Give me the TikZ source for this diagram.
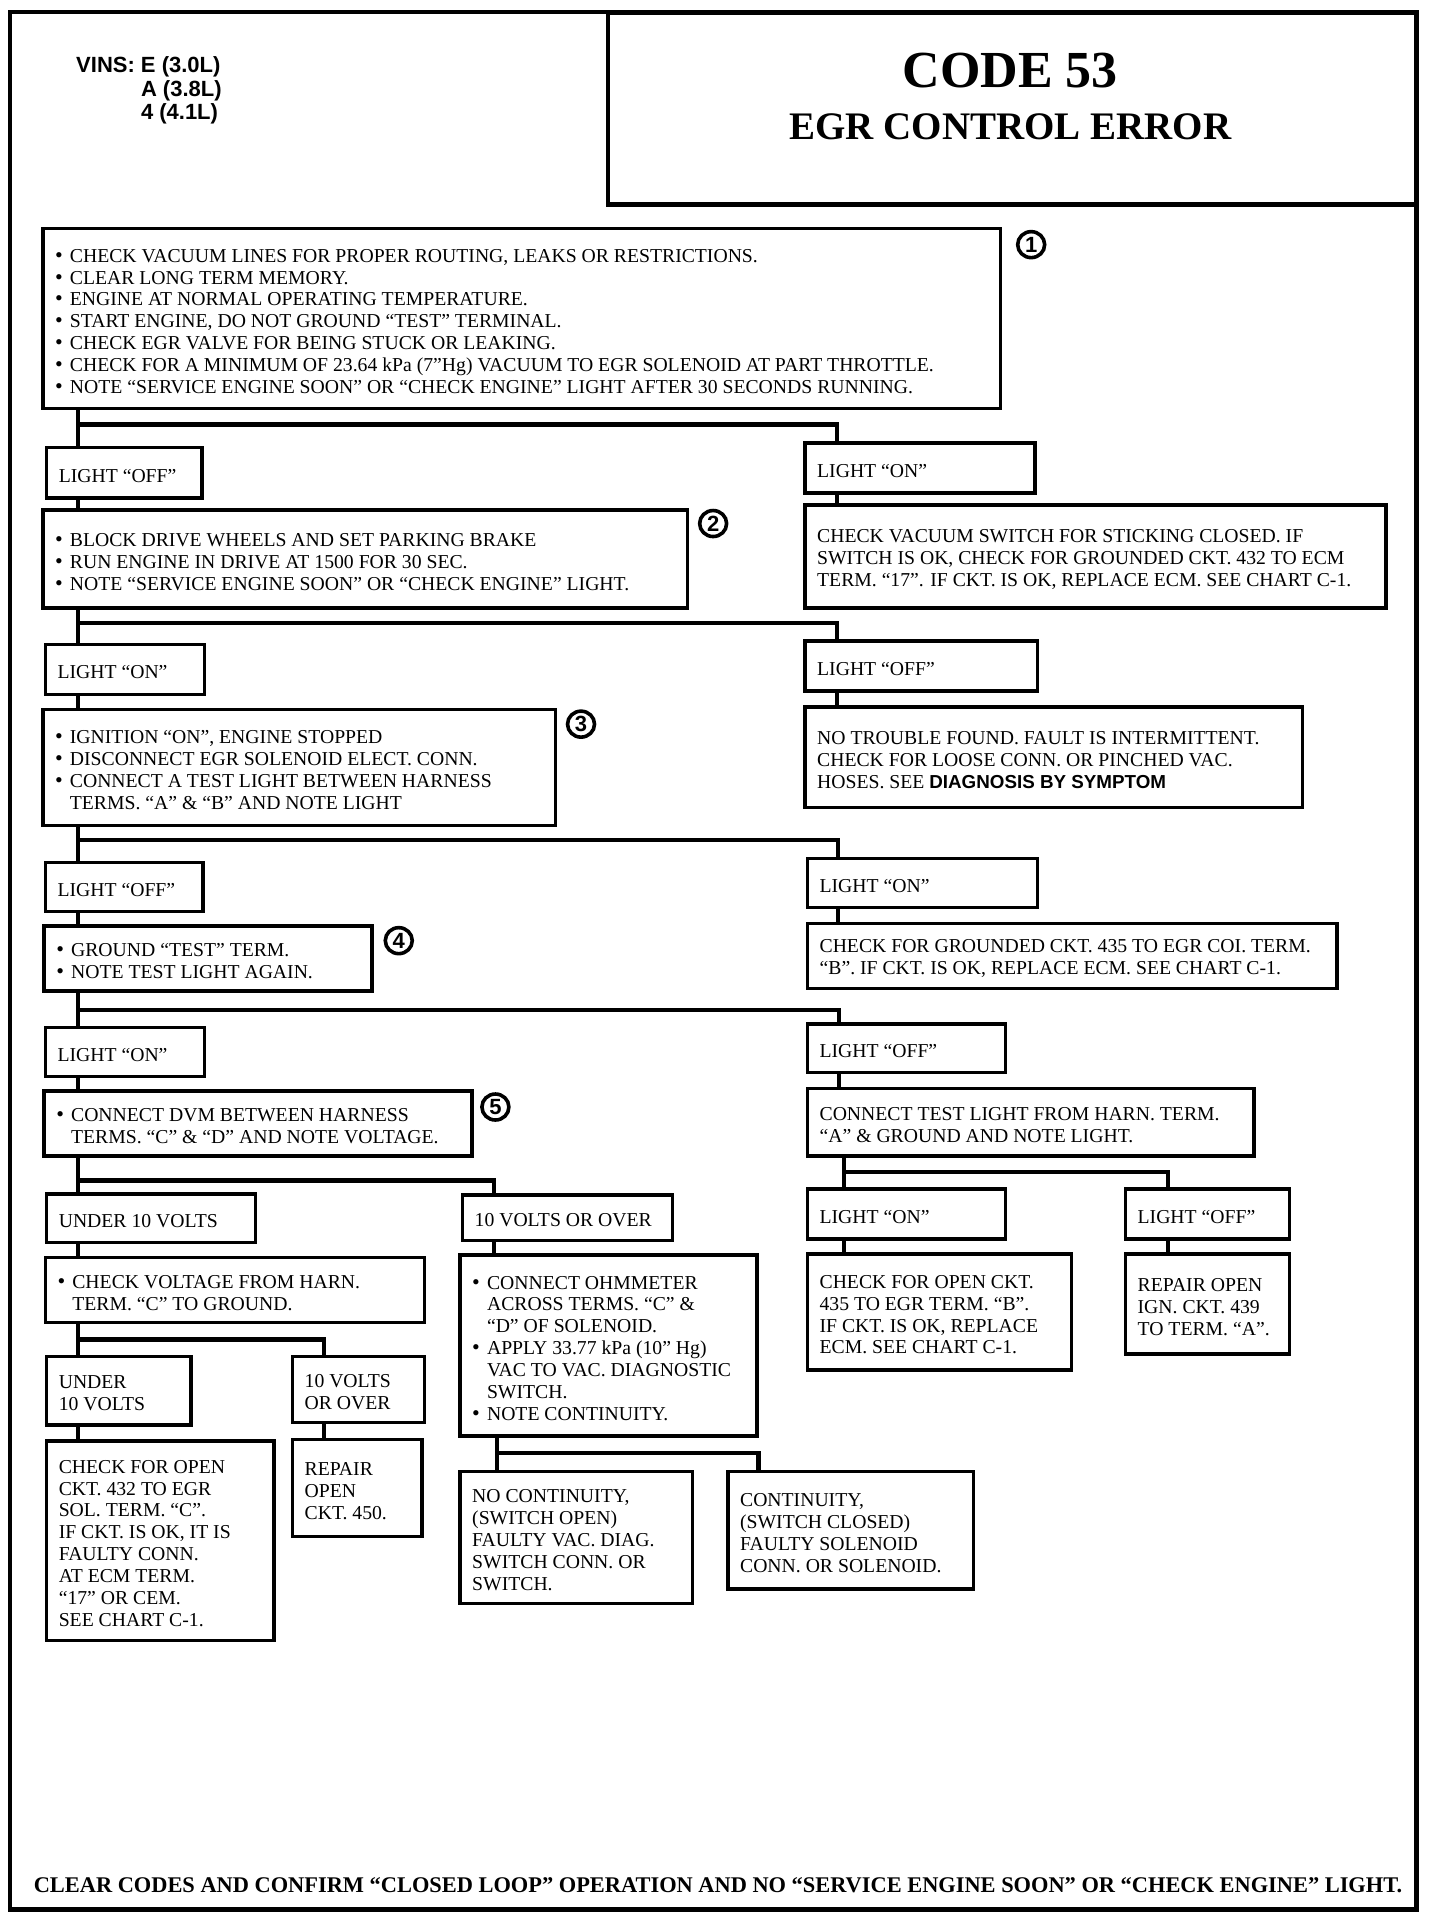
\documentclass[tikz,border=0pt]{standalone}
\usepackage{fontspec}
\setmainfont{Liberation Serif}
\newfontfamily\hsans{Liberation Sans}
\usetikzlibrary{fit,shapes.geometric}
\newcommand\bodyfont{\fontsize{9.85}{10.95}\selectfont}
\newcommand\bu{\makebox[7.4pt][l]{\fontsize{11}{11}\selectfont\textbullet}}
\newcommand\ind{\hspace*{7.4pt}}
\newcommand\sansb{\hsans\bfseries\fontsize{9.4}{10.95}\selectfont}
\newcommand\boxn[6]{\node[bx, fit={(#2,#3) (#4,#5)}] (#1) {};\node[txt] (#1t) at ([xshift=6.8pt,yshift=-1.4pt]#1.west) {#6};}
\begin{document}
\begin{tikzpicture}[x=0.6117pt,y=-0.6117pt,
 bx/.style={draw, line width=1.7pt, inner sep=0pt},
 txt/.style={anchor=west, align=left, inner sep=0pt, font=\bodyfont},
 conn/.style={line width=2.1pt},
 num/.style={draw, ellipse, line width=1.8pt, inner sep=0pt, minimum width=13.5pt, minimum height=13pt, font=\hsans\bfseries\fontsize{11}{11}\selectfont}]
\useasboundingbox (0,0) rectangle (1177,1568);
% frame and title
\node[draw, line width=2.2pt, inner sep=0pt, fit={(8,10) (1158,1561)}] (frame) {};
\node[draw, line width=2.4pt, inner sep=0pt, fit={(497,10) (1158,167)}] (tbox) {};
\node[font=\bfseries\fontsize{26}{28}\selectfont] (code) at (826,58) {CODE 53};
\node[font=\bfseries\fontsize{19.5}{22}\selectfont] (egr) at (826,104) {EGR CONTROL ERROR};
\node[anchor=north west, inner sep=0pt, font=\hsans\bfseries\fontsize{11}{11.6}\selectfont] (vins) at (62,46)
 {\begin{tabular}{@{}r@{ }l@{}}VINS: & E (3.0L)\\ & A (3.8L)\\ & 4 (4.1L)\end{tabular}};
% boxes
\boxn{b1}{35}{187}{818}{334}{\bu CHECK VACUUM LINES FOR PROPER ROUTING, LEAKS OR RESTRICTIONS.\\
\bu CLEAR LONG TERM MEMORY.\\
\bu ENGINE AT NORMAL OPERATING TEMPERATURE.\\
\bu START ENGINE, DO NOT GROUND “TEST” TERMINAL.\\
\bu CHECK EGR VALVE FOR BEING STUCK OR LEAKING.\\
\bu CHECK FOR A MINIMUM OF 23.64 kPa (7”Hg) VACUUM TO EGR SOLENOID AT PART THROTTLE.\\
\bu NOTE “SERVICE ENGINE SOON” OR “CHECK ENGINE” LIGHT AFTER 30 SECONDS RUNNING.}
\boxn{lo1}{38}{366}{165}{407}{LIGHT “OFF”}
\boxn{ro1}{658}{362}{846}{403}{LIGHT “ON”}
\boxn{b2}{35}{417}{562}{497}{\bu BLOCK DRIVE WHEELS AND SET PARKING BRAKE\\
\bu RUN ENGINE IN DRIVE AT 1500 FOR 30 SEC.\\
\bu NOTE “SERVICE ENGINE SOON” OR “CHECK ENGINE” LIGHT.}
\boxn{rb1}{658}{413}{1133}{497}{CHECK VACUUM SWITCH FOR STICKING CLOSED. IF\\
SWITCH IS OK, CHECK FOR GROUNDED CKT. 432 TO ECM\\
TERM. “17”. IF CKT. IS OK, REPLACE ECM. SEE CHART C-1.}
\boxn{lo2}{37}{527}{167}{568}{LIGHT “ON”}
\boxn{ro2}{658}{524}{848}{565}{LIGHT “OFF”}
\boxn{b3}{35}{580}{454}{675}{\bu IGNITION “ON”, ENGINE STOPPED\\
\bu DISCONNECT EGR SOLENOID ELECT. CONN.\\
\bu CONNECT A TEST LIGHT BETWEEN HARNESS\\
\ind TERMS. “A” \& “B” AND NOTE LIGHT}
\boxn{rb2}{658}{578}{1065}{660}{NO TROUBLE FOUND. FAULT IS INTERMITTENT.\\
CHECK FOR LOOSE CONN. OR PINCHED VAC.\\
HOSES. SEE {\sansb DIAGNOSIS BY SYMPTOM}}
\boxn{lo3}{37}{705}{166}{745}{LIGHT “OFF”}
\boxn{ro3}{660}{702}{848}{742}{LIGHT “ON”}
\boxn{b4}{36}{757}{304}{810}{\bu GROUND “TEST” TERM.\\
\bu NOTE TEST LIGHT AGAIN.}
\boxn{rb3}{660}{755}{1093}{808}{CHECK FOR GROUNDED CKT. 435 TO EGR COI. TERM.\\
“B”. IF CKT. IS OK, REPLACE ECM. SEE CHART C-1.}
\boxn{lo4}{37}{840}{167}{880}{LIGHT “ON”}
\boxn{ro4}{660}{837}{822}{877}{LIGHT “OFF”}
\boxn{b5}{36}{892}{386}{945}{\bu CONNECT DVM BETWEEN HARNESS\\
\ind TERMS. “C” \& “D” AND NOTE VOLTAGE.}
\boxn{rb4}{660}{890}{1025}{945}{CONNECT TEST LIGHT FROM HARN. TERM.\\
“A” \& GROUND AND NOTE LIGHT.}
\boxn{u1}{38}{976}{209}{1016}{UNDER 10 VOLTS}
\boxn{o1}{378}{977}{550}{1014}{10 VOLTS OR OVER}
\boxn{ro5}{660}{972}{822}{1013}{LIGHT “ON”}
\boxn{rf5}{920}{972}{1054}{1013}{LIGHT “OFF”}
\boxn{cv}{37}{1028}{347}{1081}{\bu CHECK VOLTAGE FROM HARN.\\
\ind TERM. “C” TO GROUND.}
\boxn{ohm}{376}{1026}{619}{1174}{\bu CONNECT OHMMETER\\
\ind ACROSS TERMS. “C” \&\\
\ind “D” OF SOLENOID.\\
\bu APPLY 33.77 kPa (10” Hg)\\
\ind VAC TO VAC. DIAGNOSTIC\\
\ind SWITCH.\\
\bu NOTE CONTINUITY.}
\boxn{c435}{660}{1025}{876}{1120}{CHECK FOR OPEN CKT.\\
435 TO EGR TERM. “B”.\\
IF CKT. IS OK, REPLACE\\
ECM. SEE CHART C-1.}
\boxn{r439}{920}{1025}{1054}{1107}{REPAIR OPEN\\
IGN. CKT. 439\\
TO TERM. “A”.}
\boxn{u2}{38}{1109}{156}{1165}{UNDER\\ 10 VOLTS}
\boxn{o2}{239}{1109}{347}{1163}{10 VOLTS\\ OR OVER}
\boxn{c432}{38}{1178}{224}{1341}{CHECK FOR OPEN\\
CKT. 432 TO EGR\\
SOL. TERM. “C”.\\
IF CKT. IS OK, IT IS\\
FAULTY CONN.\\
AT ECM TERM.\\
“17” OR CEM.\\
SEE CHART C-1.}
\boxn{r450}{239}{1177}{345}{1256}{REPAIR\\ OPEN\\ CKT. 450.}
\boxn{nc}{376}{1203}{566}{1311}{NO CONTINUITY,\\
(SWITCH OPEN)\\
FAULTY VAC. DIAG.\\
SWITCH CONN. OR\\
SWITCH.}
\boxn{cc}{595}{1203}{796}{1299}{CONTINUITY,\\
(SWITCH CLOSED)\\
FAULTY SOLENOID\\
CONN. OR SOLENOID.}
% step numbers
\node[num] (n1) at (843,200) {1};
\node[num] (n2) at (583,428) {2};
\node[num] (n3) at (475,592) {3};
\node[num] (n4) at (326,769) {4};
\node[num] (n5) at (405,905) {5};
% junctions
\coordinate (j1) at (64,347);  \coordinate (k1) at (684,347);
\coordinate (j2) at (64,509);  \coordinate (k2) at (684,509);
\coordinate (j3) at (64,687);  \coordinate (k3) at (685,687);
\coordinate (j4) at (64,826);  \coordinate (k4) at (686,826);
\coordinate (j5) at (64,965);  \coordinate (k5) at (404,965);
\coordinate (j5r) at (690,958); \coordinate (k5r) at (955,958);
\coordinate (j6) at (64,1095); \coordinate (k6) at (265,1095);
\coordinate (j7) at (406,1188); \coordinate (k7) at (620,1188);
% connectors
\draw[conn] (b1.south -| j1) -- (lo1.north -| j1);
\draw[conn] (j1) -- (k1) -- (ro1.north -| k1);
\draw[conn] (lo1.south -| j1) -- (b2.north -| j1);
\draw[conn] (ro1.south -| k1) -- (rb1.north -| k1);
\draw[conn] (b2.south -| j2) -- (lo2.north -| j2);
\draw[conn] (j2) -- (k2) -- (ro2.north -| k2);
\draw[conn] (lo2.south -| j2) -- (b3.north -| j2);
\draw[conn] (ro2.south -| k2) -- (rb2.north -| k2);
\draw[conn] (b3.south -| j3) -- (lo3.north -| j3);
\draw[conn] (j3) -- (k3) -- (ro3.north -| k3);
\draw[conn] (lo3.south -| j3) -- (b4.north -| j3);
\draw[conn] (ro3.south -| k3) -- (rb3.north -| k3);
\draw[conn] (b4.south -| j4) -- (lo4.north -| j4);
\draw[conn] (j4) -- (k4) -- (ro4.north -| k4);
\draw[conn] (lo4.south -| j4) -- (b5.north -| j4);
\draw[conn] (ro4.south -| k4) -- (rb4.north -| k4);
\draw[conn] (b5.south -| j5) -- (u1.north -| j5);
\draw[conn] (j5) -- (k5) -- (o1.north -| k5);
\draw[conn] (u1.south -| j5) -- (cv.north -| j5);
\draw[conn] (o1.south -| k5) -- (ohm.north -| k5);
\draw[conn] (rb4.south -| j5r) -- (ro5.north -| j5r);
\draw[conn] (j5r) -- (k5r) -- (rf5.north -| k5r);
\draw[conn] (ro5.south -| j5r) -- (c435.north -| j5r);
\draw[conn] (rf5.south -| k5r) -- (r439.north -| k5r);
\draw[conn] (cv.south -| j6) -- (u2.north -| j6);
\draw[conn] (j6) -- (k6) -- (o2.north -| k6);
\draw[conn] (u2.south -| j6) -- (c432.north -| j6);
\draw[conn] (o2.south -| k6) -- (r450.north -| k6);
\draw[conn] (ohm.south -| j7) -- (nc.north -| j7);
\draw[conn] (j7) -- (k7) -- (cc.north -| k7);
% footer
\node[font=\bfseries\fontsize{11.2}{12}\selectfont, inner sep=0pt] (foot) at (587,1541)
 {CLEAR CODES AND CONFIRM “CLOSED LOOP” OPERATION AND NO “SERVICE ENGINE SOON” OR “CHECK ENGINE” LIGHT.};
\end{tikzpicture}
\end{document}
